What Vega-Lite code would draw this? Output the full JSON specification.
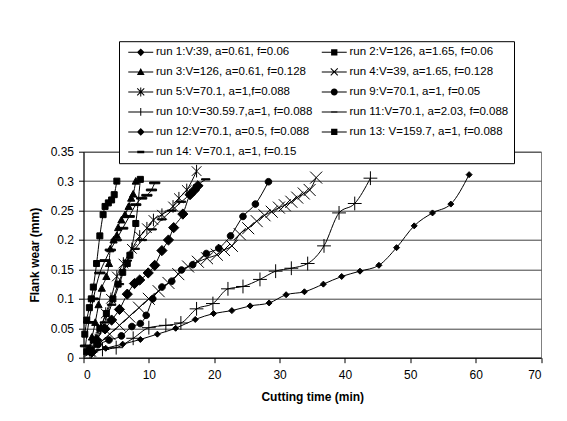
{
  "$schema": "https://vega.github.io/schema/vega-lite/v6.json",
  "width": 457.5,
  "height": 206,
  "autosize": {"type": "none"},
  "padding": {"left": 83.5, "top": 151.7, "right": 26, "bottom": 63.3},
  "background": "white",
  "datasets": {
    "labels": [
      {"r": "1", "label": "run 1:V:39, a=0.61, f=0.06"},
      {"r": "2", "label": "run 2:V=126, a=1.65, f=0.06"},
      {"r": "3", "label": "run 3:V=126, a=0.61, f=0.128"},
      {"r": "4", "label": "run 4:V=39, a=1.65, f=0.128"},
      {"r": "5", "label": "run 5:V=70.1, a=1,f=0.088"},
      {"r": "9", "label": "run 9:V=70.1, a=1, f=0.05"},
      {"r": "10", "label": "run 10:V=30.59.7,a=1, f=0.088"},
      {"r": "11", "label": "run 11:V=70.1, a=2.03, f=0.088"},
      {"r": "12", "label": "run 12:V=70.1, a=0.5, f=0.088"},
      {"r": "13", "label": "run 13: V=159.7, a=1, f=0.088"},
      {"r": "14", "label": "run 14: V=70.1, a=1, f=0.15"}
    ],
    "wear": [
      {"r": "1", "t": 1, "w": 0.008}, {"r": "1", "t": 3.4, "w": 0.016}, {"r": "1", "t": 6, "w": 0.023}, {"r": "1", "t": 8.7, "w": 0.031}, {"r": "1", "t": 11.3, "w": 0.04}, {"r": "1", "t": 14.1, "w": 0.05}, {"r": "1", "t": 17.1, "w": 0.065}, {"r": "1", "t": 19.9, "w": 0.075}, {"r": "1", "t": 22.7, "w": 0.08}, {"r": "1", "t": 25.5, "w": 0.088}, {"r": "1", "t": 28.4, "w": 0.093}, {"r": "1", "t": 31, "w": 0.107}, {"r": "1", "t": 33.8, "w": 0.112}, {"r": "1", "t": 36.7, "w": 0.125}, {"r": "1", "t": 39.5, "w": 0.138}, {"r": "1", "t": 42.3, "w": 0.147}, {"r": "1", "t": 45.2, "w": 0.157}, {"r": "1", "t": 47.9, "w": 0.187}, {"r": "1", "t": 50.6, "w": 0.224}, {"r": "1", "t": 53.4, "w": 0.246}, {"r": "1", "t": 56.2, "w": 0.261}, {"r": "1", "t": 59, "w": 0.311},
      {"r": "10", "t": 1.2, "w": 0.01}, {"r": "10", "t": 2.9, "w": 0.014}, {"r": "10", "t": 5, "w": 0.017}, {"r": "10", "t": 7.6, "w": 0.033}, {"r": "10", "t": 10, "w": 0.051}, {"r": "10", "t": 12.6, "w": 0.055}, {"r": "10", "t": 14.9, "w": 0.059}, {"r": "10", "t": 17.3, "w": 0.083}, {"r": "10", "t": 19.8, "w": 0.092}, {"r": "10", "t": 22.1, "w": 0.117}, {"r": "10", "t": 24.4, "w": 0.121}, {"r": "10", "t": 27, "w": 0.133}, {"r": "10", "t": 29.4, "w": 0.147}, {"r": "10", "t": 31.8, "w": 0.152}, {"r": "10", "t": 34.3, "w": 0.16}, {"r": "10", "t": 36.8, "w": 0.19}, {"r": "10", "t": 39.1, "w": 0.246}, {"r": "10", "t": 41.5, "w": 0.262}, {"r": "10", "t": 43.9, "w": 0.305},
      {"r": "9", "t": 0.8, "w": 0.013}, {"r": "9", "t": 2.2, "w": 0.022}, {"r": "9", "t": 3.9, "w": 0.03}, {"r": "9", "t": 5.8, "w": 0.037}, {"r": "9", "t": 7.4, "w": 0.053}, {"r": "9", "t": 8.7, "w": 0.058}, {"r": "9", "t": 9.6, "w": 0.072}, {"r": "9", "t": 10.6, "w": 0.1}, {"r": "9", "t": 12, "w": 0.12}, {"r": "9", "t": 13.5, "w": 0.13}, {"r": "9", "t": 15, "w": 0.149}, {"r": "9", "t": 16.7, "w": 0.158}, {"r": "9", "t": 18.8, "w": 0.177}, {"r": "9", "t": 20.7, "w": 0.186}, {"r": "9", "t": 22.5, "w": 0.207}, {"r": "9", "t": 24.4, "w": 0.24}, {"r": "9", "t": 26.3, "w": 0.261}, {"r": "9", "t": 28.3, "w": 0.299},
      {"r": "4", "t": 1, "w": 0.012}, {"r": "4", "t": 2.5, "w": 0.025}, {"r": "4", "t": 4, "w": 0.04}, {"r": "4", "t": 5.5, "w": 0.055}, {"r": "4", "t": 7, "w": 0.07}, {"r": "4", "t": 8.5, "w": 0.085}, {"r": "4", "t": 10, "w": 0.1}, {"r": "4", "t": 11.5, "w": 0.113}, {"r": "4", "t": 13, "w": 0.127}, {"r": "4", "t": 14.5, "w": 0.142}, {"r": "4", "t": 16, "w": 0.155}, {"r": "4", "t": 17.5, "w": 0.163}, {"r": "4", "t": 18.9, "w": 0.169}, {"r": "4", "t": 20.4, "w": 0.175}, {"r": "4", "t": 21.5, "w": 0.183}, {"r": "4", "t": 22.7, "w": 0.19}, {"r": "4", "t": 23.9, "w": 0.21}, {"r": "4", "t": 25.2, "w": 0.22}, {"r": "4", "t": 26.5, "w": 0.232}, {"r": "4", "t": 27.7, "w": 0.242}, {"r": "4", "t": 28.8, "w": 0.248}, {"r": "4", "t": 29.9, "w": 0.255}, {"r": "4", "t": 30.8, "w": 0.259}, {"r": "4", "t": 31.8, "w": 0.265}, {"r": "4", "t": 32.7, "w": 0.272}, {"r": "4", "t": 33.7, "w": 0.279}, {"r": "4", "t": 34.6, "w": 0.285}, {"r": "4", "t": 35.6, "w": 0.306},
      {"r": "12", "t": 1.3, "w": 0.01}, {"r": "12", "t": 2, "w": 0.03}, {"r": "12", "t": 3.3, "w": 0.049}, {"r": "12", "t": 4.3, "w": 0.064}, {"r": "12", "t": 5.5, "w": 0.082}, {"r": "12", "t": 6.7, "w": 0.108}, {"r": "12", "t": 7.8, "w": 0.126}, {"r": "12", "t": 8.6, "w": 0.132}, {"r": "12", "t": 9.9, "w": 0.144}, {"r": "12", "t": 10.9, "w": 0.157}, {"r": "12", "t": 12, "w": 0.182}, {"r": "12", "t": 13, "w": 0.2}, {"r": "12", "t": 13.8, "w": 0.221}, {"r": "12", "t": 15.2, "w": 0.244}, {"r": "12", "t": 16.3, "w": 0.277}, {"r": "12", "t": 17, "w": 0.285}, {"r": "12", "t": 17.5, "w": 0.292},
      {"r": "5", "t": 1, "w": 0.01}, {"r": "5", "t": 1.8, "w": 0.03}, {"r": "5", "t": 2.6, "w": 0.05}, {"r": "5", "t": 3.4, "w": 0.075}, {"r": "5", "t": 4.2, "w": 0.1}, {"r": "5", "t": 5.1, "w": 0.138}, {"r": "5", "t": 6.1, "w": 0.16}, {"r": "5", "t": 7.4, "w": 0.185}, {"r": "5", "t": 8.6, "w": 0.206}, {"r": "5", "t": 9.7, "w": 0.22}, {"r": "5", "t": 10.7, "w": 0.234}, {"r": "5", "t": 12, "w": 0.243}, {"r": "5", "t": 13.7, "w": 0.257}, {"r": "5", "t": 14.6, "w": 0.271}, {"r": "5", "t": 15.8, "w": 0.285}, {"r": "5", "t": 17.3, "w": 0.317},
      {"r": "11", "t": 1, "w": 0.01}, {"r": "11", "t": 2, "w": 0.03}, {"r": "11", "t": 3.2, "w": 0.06}, {"r": "11", "t": 4.3, "w": 0.09}, {"r": "11", "t": 5.5, "w": 0.125}, {"r": "11", "t": 6.7, "w": 0.165}, {"r": "11", "t": 7.9, "w": 0.185}, {"r": "11", "t": 9, "w": 0.2}, {"r": "11", "t": 10.5, "w": 0.218}, {"r": "11", "t": 12, "w": 0.235}, {"r": "11", "t": 13.5, "w": 0.25}, {"r": "11", "t": 15, "w": 0.265}, {"r": "11", "t": 16.5, "w": 0.28}, {"r": "11", "t": 17.5, "w": 0.293}, {"r": "11", "t": 18.7, "w": 0.303},
      {"r": "14", "t": 0.3, "w": 0.02}, {"r": "14", "t": 0.8, "w": 0.06}, {"r": "14", "t": 1.5, "w": 0.1}, {"r": "14", "t": 2.5, "w": 0.144}, {"r": "14", "t": 3.3, "w": 0.165}, {"r": "14", "t": 4.1, "w": 0.183}, {"r": "14", "t": 5, "w": 0.2}, {"r": "14", "t": 6, "w": 0.22}, {"r": "14", "t": 7, "w": 0.24}, {"r": "14", "t": 8, "w": 0.26}, {"r": "14", "t": 8.9, "w": 0.271}, {"r": "14", "t": 9.7, "w": 0.276}, {"r": "14", "t": 10.4, "w": 0.285}, {"r": "14", "t": 10.9, "w": 0.297},
      {"r": "3", "t": 0.8, "w": 0.015}, {"r": "3", "t": 1.3, "w": 0.035}, {"r": "3", "t": 1.8, "w": 0.06}, {"r": "3", "t": 2.3, "w": 0.09}, {"r": "3", "t": 2.8, "w": 0.118}, {"r": "3", "t": 3.5, "w": 0.138}, {"r": "3", "t": 3.9, "w": 0.16}, {"r": "3", "t": 4.1, "w": 0.185}, {"r": "3", "t": 4.6, "w": 0.2}, {"r": "3", "t": 5.1, "w": 0.208}, {"r": "3", "t": 5.3, "w": 0.221}, {"r": "3", "t": 5.8, "w": 0.234}, {"r": "3", "t": 6.35, "w": 0.243}, {"r": "3", "t": 6.9, "w": 0.257}, {"r": "3", "t": 7.3, "w": 0.271}, {"r": "3", "t": 7.6, "w": 0.278}, {"r": "3", "t": 8, "w": 0.3},
      {"r": "2", "t": 0.5, "w": 0.01}, {"r": "2", "t": 1.5, "w": 0.03}, {"r": "2", "t": 2.5, "w": 0.05}, {"r": "2", "t": 3.5, "w": 0.075}, {"r": "2", "t": 4.5, "w": 0.1}, {"r": "2", "t": 5.3, "w": 0.125}, {"r": "2", "t": 6, "w": 0.145}, {"r": "2", "t": 6.7, "w": 0.16}, {"r": "2", "t": 7.1, "w": 0.174}, {"r": "2", "t": 8, "w": 0.228}, {"r": "2", "t": 8.7, "w": 0.303},
      {"r": "13", "t": 0.2, "w": 0.04}, {"r": "13", "t": 0.5, "w": 0.064}, {"r": "13", "t": 0.9, "w": 0.085}, {"r": "13", "t": 1.2, "w": 0.1}, {"r": "13", "t": 1.5, "w": 0.12}, {"r": "13", "t": 2, "w": 0.16}, {"r": "13", "t": 2.5, "w": 0.207}, {"r": "13", "t": 3, "w": 0.243}, {"r": "13", "t": 3.3, "w": 0.257}, {"r": "13", "t": 3.8, "w": 0.263}, {"r": "13", "t": 4.3, "w": 0.268}, {"r": "13", "t": 4.7, "w": 0.277}, {"r": "13", "t": 5.1, "w": 0.3}
    ]
  },
  "data": {"name": "wear"},
  "transform": [
    {"lookup": "r", "from": {"data": {"name": "labels"}, "key": "r", "fields": ["label"]}}
  ],
  "encoding": {
    "x": {
      "field": "t", "type": "quantitative",
      "scale": {"domain": [0, 70], "nice": false, "zero": false},
      "axis": {"values": [0, 10, 20, 30, 40, 50, 60, 70], "format": "d", "grid": false, "title": "Cutting time (min)", "labelPadding": 7, "titlePadding": 11}
    },
    "y": {
      "field": "w", "type": "quantitative",
      "scale": {"domain": [0, 0.35], "nice": false},
      "axis": {"values": [0, 0.05, 0.1, 0.15, 0.2, 0.25, 0.3, 0.35], "format": ".2~f", "grid": true, "title": "Flank wear (mm)", "titlePadding": 9}
    }
  },
  "layer": [
    {
      "mark": {"type": "line", "interpolate": "monotone", "color": "black", "strokeWidth": 1, "clip": false},
      "encoding": {"detail": {"field": "r", "type": "nominal"}}
    },
    {
      "mark": {"type": "point", "filled": true, "fill": "black", "stroke": "black", "strokeWidth": 1, "opacity": 1, "size": 36, "clip": false},
      "encoding": {
        "shape": {
          "field": "r", "type": "nominal", "legend": null,
          "scale": {
            "domain": ["1", "2", "3", "4", "5", "9", "10", "11", "12", "13", "14"],
            "range": ["M0,-1L1,0L0,1L-1,0Z", "M-1,-1H1V1H-1Z", "M0,-1.2L1.2,1H-1.2Z", "M-2,-2L2,2M-2,2L2,-2", "M-1.6,-1.6L1.6,1.6M-1.6,1.6L1.6,-1.6M0,-2.1V2.1", "M1.1,0A1.1,1.1,0,1,1,-1.1,0A1.1,1.1,0,1,1,1.1,0Z", "M-2.3,0H2.3M0,-2.3V2.3", "M-1.4,-0.2H1.4V0.2H-1.4Z", "M0,-1.7L1.7,0L0,1.7L-1.7,0Z", "M-1,-1H1V1H-1Z", "M-1.7,-0.3H1.7V0.3H-1.7Z"]
          }
        }
      }
    },
    {
      "mark": {"type": "point", "filled": true, "color": "black", "opacity": 0, "size": 49, "clip": false},
      "encoding": {
        "shape": {
          "field": "label", "type": "nominal",
          "scale": {
            "domain": ["run 1:V:39, a=0.61, f=0.06", "run 2:V=126, a=1.65, f=0.06", "run 3:V=126, a=0.61, f=0.128", "run 4:V=39, a=1.65, f=0.128", "run 5:V=70.1, a=1,f=0.088", "run 9:V=70.1, a=1, f=0.05", "run 10:V=30.59.7,a=1, f=0.088", "run 11:V=70.1, a=2.03, f=0.088", "run 12:V=70.1, a=0.5, f=0.088", "run 13: V=159.7, a=1, f=0.088", "run 14: V=70.1, a=1, f=0.15"],
            "range": [
              "M-3.57,-0.143H3.57V0.143H-3.57Z M0,-1.1L1.1,0L0,1.1L-1.1,0Z",
              "M-3.57,-0.143H3.57V0.143H-3.57Z M-0.9,-0.9H0.9V0.9H-0.9Z",
              "M-3.57,-0.143H3.57V0.143H-3.57Z M0,-1.1L1.1,0.9H-1.1Z",
              "M-3.57,-0.143H3.57V0.143H-3.57Z M-0.9,-1.1L1.1,0.9L0.9,1.1L-1.1,-0.9Z M-1.1,0.9L0.9,-1.1L1.1,-0.9L-0.9,1.1Z",
              "M-3.57,-0.143H3.57V0.143H-3.57Z M-0.9,-1.1L1.1,0.9L0.9,1.1L-1.1,-0.9Z M-1.1,0.9L0.9,-1.1L1.1,-0.9L-0.9,1.1Z M-0.143,-1.3H0.143V1.3H-0.143Z",
              "M-3.57,-0.143H3.57V0.143H-3.57Z M1,0A1,1,0,1,1,-1,0A1,1,0,1,1,1,0Z",
              "M-3.57,-0.143H3.57V0.143H-3.57Z M-0.143,-1.1H0.143V1.1H-0.143Z",
              "M-3.57,-0.143H3.57V0.143H-3.57Z M-0.9,-0.22H0.9V0.22H-0.9Z",
              "M-3.57,-0.143H3.57V0.143H-3.57Z M0,-1.1L1.1,0L0,1.1L-1.1,0Z",
              "M-3.57,-0.143H3.57V0.143H-3.57Z M-0.9,-0.9H0.9V0.9H-0.9Z",
              "M-3.57,-0.143H3.57V0.143H-3.57Z M-1,-0.35H1V0.35H-1Z"
            ]
          },
          "legend": {
            "title": null,
            "orient": "none",
            "legendX": 35.5,
            "legendY": -110.5,
            "columns": 2,
            "direction": "horizontal",
            "columnPadding": 4.5,
            "rowPadding": 7,
            "padding": 5,
            "strokeColor": "black",
            "fillColor": "white",
            "symbolSize": 49,
            "symbolOffset": 11,
            "labelOffset": 9.5,
            "symbolOpacity": 1,
            "symbolStrokeWidth": 0,
            "symbolFillColor": "black",
            "labelFont": "Liberation Sans",
            "labelFontSize": 11.5,
            "labelColor": "black",
            "labelLimit": 300
          }
        }
      }
    }
  ],
  "resolve": {"scale": {"shape": "independent"}, "legend": {"shape": "independent"}},
  "config": {
    "view": {"stroke": "#808080", "strokeWidth": 1},
    "axis": {
      "labelFont": "Liberation Sans",
      "labelFontSize": 12,
      "labelColor": "black",
      "titleFont": "Liberation Sans",
      "titleFontSize": 12,
      "titleFontWeight": "bold",
      "titleColor": "black",
      "domainColor": "black",
      "tickColor": "black",
      "tickSize": 5,
      "gridColor": "#404040",
      "gridWidth": 1,
      "labelPadding": 5
    }
  }
}
